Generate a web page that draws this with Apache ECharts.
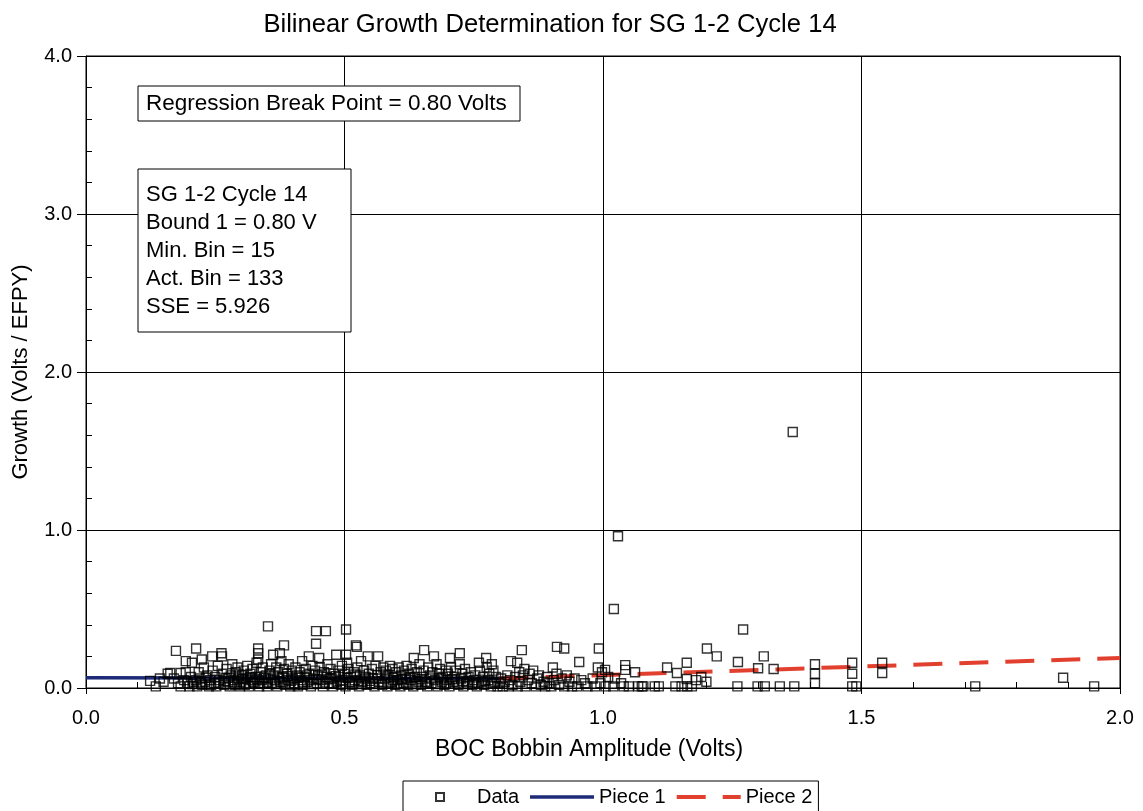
<!DOCTYPE html>
<html>
<head>
<meta charset="utf-8">
<script src="https://cdn.jsdelivr.net/npm/echarts@6/dist/echarts.min.js"></script>
<style>
html,body{margin:0;padding:0;background:#fff;}
#chart{width:1143px;height:811px;}
</style>
</head>
<body>
<div id="chart"></div>
<script>
// ---- Data ----
const titleText = 'Bilinear Growth Determination for SG 1-2 Cycle 14';
const xAxisName = 'BOC Bobbin Amplitude (Volts)';
const yAxisName = 'Growth (Volts / EFPY)';
const xTicks = [0.0, 0.5, 1.0, 1.5, 2.0];
const yTicks = [0.0, 1.0, 2.0, 3.0, 4.0];
const breakText = 'Regression Break Point = 0.80 Volts';
const infoLines = ['SG 1-2 Cycle 14', 'Bound 1 = 0.80 V', 'Min. Bin = 15', 'Act. Bin = 133', 'SSE = 5.926'];

const piece1 = [[0.0, 0.065], [0.8, 0.06]];
const piece2 = [[0.8, 0.06], [2.0, 0.19]];

const pts012 = [[0.124,0.045],[0.135,0.01],[0.143,0.06],[0.15,0.04],[0.158,0.09],[0.163,0.095],[0.17,0.06],[0.174,0.235],[0.178,0.03],[0.183,0.095],[0.183,0.01],[0.19,0.05],[0.193,0.1],[0.193,0.17],[0.197,0.03]];
const pts020 = [[0.2,0.01],[0.203,0.07],[0.205,0.16],[0.208,0.04],[0.213,0.25],[0.215,0.01],[0.218,0.1],[0.22,0.06],[0.224,0.18],[0.225,0.02],[0.228,0.13],[0.23,0.04],[0.235,0.08],[0.238,0.01],[0.24,0.05],[0.244,0.2],[0.245,0.11],[0.248,0.03]];
const pts025 = [[0.25,0.07],[0.252,0.01],[0.255,0.14],[0.258,0.05],[0.262,0.22],[0.263,0.2],[0.265,0.09],[0.267,0.02],[0.27,0.06],[0.272,0.12],[0.275,0.04],[0.278,0.01],[0.28,0.08],[0.283,0.15],[0.285,0.05],[0.288,0.02],[0.29,0.1],[0.293,0.13],[0.295,0.06],[0.298,0.01]];
const pts030 = [[0.3,0.04],[0.302,0.08],[0.305,0.11],[0.307,0.02],[0.31,0.06],[0.312,0.14],[0.315,0.01],[0.318,0.09],[0.32,0.05],[0.322,0.12],[0.325,0.03],[0.328,0.07],[0.33,0.16],[0.333,0.25],[0.333,0.22],[0.333,0.18],[0.335,0.01],[0.338,0.1],[0.34,0.05],[0.342,0.13],[0.345,0.03],[0.348,0.08],[0.352,0.39]];
const pts035 = [[0.35,0.01],[0.352,0.06],[0.355,0.11],[0.358,0.15],[0.36,0.03],[0.362,0.21],[0.363,0.08],[0.365,0.05],[0.368,0.13],[0.37,0.01],[0.372,0.1],[0.375,0.22],[0.375,0.04],[0.378,0.17],[0.38,0.07],[0.383,0.27],[0.383,0.12],[0.385,0.02],[0.388,0.09],[0.39,0.05],[0.392,0.15],[0.395,0.01],[0.398,0.11]];
const pts040 = [[0.4,0.06],[0.402,0.03],[0.405,0.13],[0.408,0.08],[0.41,0.01],[0.413,0.1],[0.415,0.05],[0.418,0.17],[0.42,0.02],[0.423,0.07],[0.425,0.12],[0.428,0.04],[0.431,0.2],[0.432,0.09],[0.435,0.01],[0.438,0.14],[0.44,0.06],[0.443,0.11],[0.445,0.36],[0.445,0.28],[0.447,0.03],[0.449,0.08]];
const pts045 = [[0.451,0.19],[0.452,0.13],[0.455,0.05],[0.458,0.01],[0.46,0.1],[0.464,0.36],[0.465,0.07],[0.467,0.15],[0.47,0.03],[0.473,0.12],[0.475,0.06],[0.478,0.01],[0.48,0.09],[0.484,0.21],[0.485,0.04],[0.488,0.11],[0.49,0.07],[0.493,0.02],[0.495,0.14],[0.498,0.05]];
const pts050 = [[0.503,0.37],[0.503,0.21],[0.5,0.09],[0.502,0.01],[0.505,0.16],[0.507,0.12],[0.51,0.04],[0.512,0.07],[0.515,0.02],[0.518,0.1],[0.522,0.27],[0.52,0.05],[0.524,0.26],[0.525,0.13],[0.528,0.01],[0.53,0.08],[0.532,0.17],[0.535,0.04],[0.538,0.11],[0.54,0.06],[0.543,0.02],[0.545,0.2],[0.547,0.09]];
const pts055 = [[0.55,0.03],[0.553,0.12],[0.555,0.06],[0.558,0.01],[0.56,0.14],[0.563,0.08],[0.565,0.2],[0.566,0.04],[0.57,0.1],[0.573,0.02],[0.575,0.13],[0.578,0.06],[0.58,0.11],[0.583,0.01],[0.585,0.08],[0.588,0.14],[0.59,0.04],[0.593,0.12],[0.595,0.07],[0.598,0.02]];
const pts060 = [[0.6,0.1],[0.603,0.05],[0.605,0.13],[0.608,0.01],[0.61,0.08],[0.613,0.03],[0.615,0.11],[0.618,0.06],[0.62,0.14],[0.623,0.02],[0.625,0.09],[0.628,0.05],[0.63,0.12],[0.634,0.19],[0.633,0.01],[0.636,0.07],[0.64,0.1],[0.643,0.04],[0.645,0.15],[0.648,0.02]];
const pts065 = [[0.65,0.07],[0.654,0.24],[0.653,0.11],[0.656,0.04],[0.66,0.01],[0.662,0.13],[0.665,0.08],[0.668,0.03],[0.67,0.1],[0.673,0.2],[0.675,0.05],[0.678,0.15],[0.68,0.01],[0.683,0.09],[0.685,0.12],[0.688,0.04],[0.69,0.07],[0.693,0.02],[0.696,0.11],[0.698,0.05]];
const pts070 = [[0.7,0.09],[0.704,0.19],[0.703,0.01],[0.706,0.13],[0.71,0.04],[0.713,0.07],[0.716,0.11],[0.72,0.02],[0.723,0.22],[0.723,0.15],[0.725,0.06],[0.728,0.09],[0.73,0.01],[0.733,0.12],[0.736,0.04],[0.74,0.07],[0.744,0.1],[0.747,0.02]];
const pts075 = [[0.75,0.05],[0.753,0.08],[0.756,0.01],[0.76,0.16],[0.762,0.11],[0.765,0.04],[0.768,0.07],[0.77,0.02],[0.774,0.19],[0.775,0.13],[0.778,0.05],[0.78,0.09],[0.783,0.01],[0.785,0.15],[0.788,0.11],[0.79,0.04],[0.793,0.07],[0.796,0.01]];
const pts080 = [[0.8,0.03],[0.803,0.06],[0.806,0.01],[0.81,0.04],[0.815,0.08],[0.818,0.01],[0.822,0.17],[0.82,0.05],[0.825,0.02],[0.83,0.07],[0.834,0.16],[0.835,0.01],[0.838,0.1],[0.843,0.24],[0.84,0.04],[0.845,0.08],[0.848,0.12]];
const pts085 = [[0.85,0.01],[0.855,0.05],[0.858,0.09],[0.862,0.03],[0.865,0.11],[0.87,0.01],[0.873,0.06],[0.876,0.08],[0.88,0.02],[0.885,0.04],[0.888,0.01],[0.892,0.07],[0.895,0.03]];
const pts090 = [[0.903,0.13],[0.9,0.01],[0.905,0.05],[0.911,0.26],[0.91,0.09],[0.915,0.02],[0.92,0.06],[0.925,0.25],[0.925,0.01],[0.93,0.08],[0.935,0.04],[0.94,0.01],[0.945,0.06],[0.954,0.165],[0.95,0.01],[0.958,0.05],[0.965,0.03],[0.97,0.01],[0.98,0.06],[0.985,0.01],[0.99,0.13],[0.992,0.25],[0.995,0.03],[0.998,0.1]];
const pts100 = [[1.004,0.115],[1.005,0.01],[1.01,0.07],[1.021,0.5],[1.029,0.96],[1.023,0.06],[1.02,0.01],[1.035,0.03],[1.043,0.145],[1.043,0.115],[1.04,0.01],[1.05,0.01],[1.062,0.1],[1.068,0.01],[1.075,0.01],[1.078,0.01],[1.1,0.01],[1.108,0.01],[1.124,0.13],[1.143,0.095],[1.14,0.01],[1.152,0.01],[1.162,0.16],[1.162,0.057],[1.163,0.01],[1.172,0.01],[1.18,0.05],[1.19,0.07],[1.2,0.04],[1.201,0.25],[1.22,0.2]];
const pts125 = [[1.261,0.165],[1.271,0.37],[1.26,0.01],[1.3,0.125],[1.299,0.01],[1.311,0.2],[1.313,0.01],[1.33,0.12],[1.342,0.01],[1.367,1.62],[1.37,0.01],[1.41,0.15],[1.41,0.09],[1.41,0.03],[1.482,0.16],[1.482,0.09],[1.482,0.01],[1.49,0.01],[1.54,0.16],[1.54,0.095],[1.72,0.01],[1.89,0.065],[1.95,0.01]];
const ptsDense = [[0.206,0.025],[0.212,0.05],[0.222,0.035],[0.232,0.065],[0.242,0.02],[0.256,0.035],[0.268,0.045],[0.276,0.065],[0.286,0.035],[0.296,0.085],[0.304,0.055],[0.309,0.03],[0.317,0.07],[0.323,0.04],[0.331,0.055],[0.337,0.03],[0.344,0.065],[0.351,0.035],[0.357,0.09],[0.366,0.025],[0.374,0.06],[0.381,0.035],[0.389,0.075],[0.396,0.045],[0.404,0.02],[0.411,0.065],[0.419,0.035],[0.427,0.08],[0.434,0.05],[0.441,0.025],[0.448,0.055],[0.456,0.085],[0.462,0.035],[0.469,0.055],[0.477,0.03],[0.483,0.075],[0.491,0.045],[0.497,0.025],[0.506,0.065],[0.514,0.035],[0.521,0.085],[0.527,0.045],[0.534,0.025],[0.541,0.07],[0.549,0.045],[0.557,0.025],[0.564,0.06],[0.572,0.035],[0.579,0.085],[0.587,0.03],[0.594,0.05],[0.602,0.025],[0.611,0.055],[0.619,0.035],[0.627,0.07],[0.638,0.025],[0.647,0.055],[0.658,0.035],[0.667,0.06],[0.677,0.025],[0.687,0.06],[0.697,0.03],[0.708,0.055],[0.718,0.035],[0.729,0.045],[0.739,0.025],[0.749,0.035],[0.759,0.03],[0.772,0.045],[0.786,0.03]];

const dataPoints = [].concat(pts012, pts020, pts025, pts030, pts035, pts040, pts045, pts050, pts055, pts060, pts065, pts070, pts075, pts080, pts085, pts090, pts100, pts125, ptsDense);

// ---- Chart ----
const FONT = '"Liberation Sans", Arial, sans-serif';
const chart = echarts.init(document.getElementById('chart'), null, {renderer: 'canvas'});
const G = {left: 86, right: 23, top: 56, bottom: 123};
const BLUE = '#1c2a78';
const RED = '#e2402e';

const option = {
  backgroundColor: '#fff',
  animation: false,
  textStyle: {fontFamily: FONT, color: '#000'},
  title: {
    text: titleText, left: 545, top: 7, textAlign: 'center',
    textStyle: {fontFamily: FONT, fontSize: 25.6, fontWeight: 'normal', color: '#000'}
  },
  grid: Object.assign({show: true, borderColor: '#000', borderWidth: 1, backgroundColor: '#fff'}, G),
  xAxis: [{
    type: 'value', min: xTicks[0], max: xTicks[xTicks.length - 1], interval: 0.5,
    name: xAxisName, nameLocation: 'middle', nameGap: 50,
    nameTextStyle: {fontFamily: FONT, fontSize: 23, color: '#000', padding: [0, 28, 0, 0]},
    axisLine: {show: true, onZero: false, lineStyle: {color: '#000', width: 1}},
    axisTick: {show: true, inside: false, length: 6, lineStyle: {color: '#000'}},
    axisLabel: {fontFamily: FONT, fontSize: 20, color: '#000', margin: 20, formatter: v => v.toFixed(1)},
    splitLine: {show: true, lineStyle: {color: '#000', width: 1}}
  }, {
    type: 'value', min: xTicks[0], max: xTicks[xTicks.length - 1], interval: 0.1, position: 'bottom',
    axisLine: {show: false}, axisLabel: {show: false}, splitLine: {show: false},
    axisTick: {show: true, inside: true, length: 6, lineStyle: {color: '#000'}}
  }],
  yAxis: [{
    type: 'value', min: yTicks[0], max: yTicks[yTicks.length - 1], interval: 1,
    name: yAxisName, nameLocation: 'middle', nameGap: 54,
    nameTextStyle: {fontFamily: FONT, fontSize: 22, color: '#000'},
    axisLine: {show: true, onZero: false, lineStyle: {color: '#000', width: 1}},
    axisTick: {show: true, inside: false, length: 9, lineStyle: {color: '#000'}},
    axisLabel: {fontFamily: FONT, fontSize: 20, color: '#000', margin: 14, formatter: v => v.toFixed(1)},
    splitLine: {show: true, lineStyle: {color: '#000', width: 1}}
  }, {
    type: 'value', min: yTicks[0], max: yTicks[yTicks.length - 1], interval: 0.2, position: 'left',
    axisLine: {show: false}, axisLabel: {show: false}, splitLine: {show: false},
    axisTick: {show: true, inside: true, length: 6, lineStyle: {color: '#000'}}
  }],
  legend: {
    left: 403, top: 781, orient: 'horizontal',
    borderColor: '#000', borderWidth: 1, borderRadius: 0,
    padding: [6, 6, 8, 32], itemGap: 9, itemWidth: 64, itemHeight: 8,
    textStyle: {fontFamily: FONT, fontSize: 20, color: '#000'},
    data: [
      {name: 'Data', icon: 'path://M0,0L10,0L10,10L0,10Z'},
      {name: 'Piece 1', itemStyle: {opacity: 0}, lineStyle: {color: BLUE, width: 3.5, type: 'solid'}},
      {name: 'Piece 2', itemStyle: {opacity: 0}, lineStyle: {color: RED, width: 4, type: [29, 17]}}
    ]
  },
  series: [{
    name: 'Piece 1', type: 'line', xAxisIndex: 0, yAxisIndex: 0,
    data: piece1, symbol: 'none',
    lineStyle: {color: BLUE, width: 3.5, type: 'solid'},
    itemStyle: {color: BLUE}, z: 2
  }, {
    name: 'Piece 2', type: 'line', xAxisIndex: 0, yAxisIndex: 0,
    data: piece2, symbol: 'none',
    lineStyle: {color: RED, width: 4, type: [29, 17]},
    itemStyle: {color: RED}, z: 2
  }, {
    name: 'Data', type: 'scatter', xAxisIndex: 0, yAxisIndex: 0,
    data: dataPoints, symbol: 'rect', symbolSize: 9,
    itemStyle: {color: 'rgba(255,255,255,0)', borderColor: '#000', borderWidth: 1.4},
    z: 3
  }],
  graphic: [
    {type: 'rect', z: 10, shape: {x: 138, y: 86, width: 382, height: 35},
     style: {fill: '#fff', stroke: '#000', lineWidth: 1}},
    {type: 'text', z: 11, x: 146, y: 104,
     style: {text: breakText, font: '22.5px ' + FONT, fill: '#000', textVerticalAlign: 'middle', verticalAlign: 'middle'}},
    {type: 'rect', z: 10, shape: {x: 138, y: 169, width: 213, height: 163},
     style: {fill: '#fff', stroke: '#000', lineWidth: 1}},
    {type: 'text', z: 11, x: 146, y: 181,
     style: {text: infoLines.join('\n'), font: '22px ' + FONT, lineHeight: 28, fill: '#000'}}
  ]
};
chart.setOption(option);
</script>
</body>
</html>
